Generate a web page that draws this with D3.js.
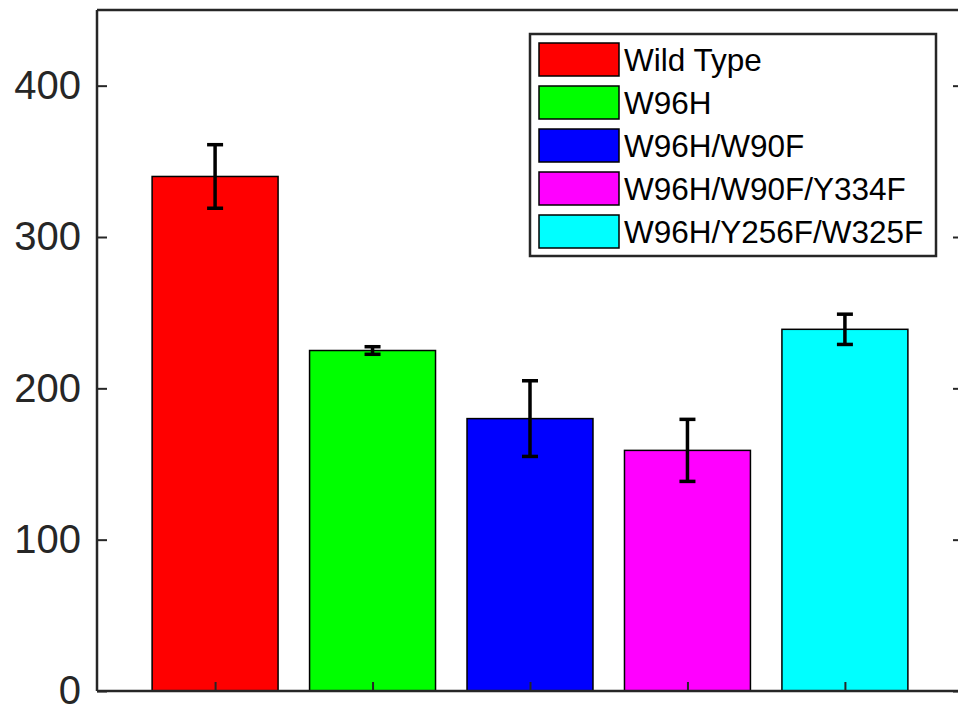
<!DOCTYPE html>
<html><head><meta charset="utf-8">
<script src="https://cdn.jsdelivr.net/npm/d3@7"></script>
<style>body{margin:0;background:#fff}svg{display:block}</style>
</head><body>
<script>
const categories = ["Wild Type","W96H","W96H/W90F","W96H/W90F/Y334F","W96H/Y256F/W325F"];
const values = [340, 225, 180, 159, 239];
const errors = [21, 2.5, 25, 20.5, 10];
const colors = ["#ff0000","#00ff00","#0000ff","#ff00ff","#00ffff"];
const yTicks = [0,100,200,300,400];

const W=958,H=715;
const svg=d3.select("body").append("svg").attr("width",W).attr("height",H);
const x=d3.scaleLinear().domain([0.25,5.75]).range([97,963]);
const y=d3.scaleLinear().domain([0,450]).range([691,10]);
const axisColor="#262626";
const bw=0.8;

// bars
svg.selectAll("rect.bar").data(values).enter().append("rect")
  .attr("x",(d,i)=>x(i+1-bw/2)).attr("width",(d,i)=>x(i+1+bw/2)-x(i+1-bw/2))
  .attr("y",d=>y(d)).attr("height",d=>y(0)-y(d))
  .attr("fill",(d,i)=>colors[i]).attr("stroke","#000").attr("stroke-width",1.5);

// error bars
const eb=svg.append("g").attr("stroke","#000").attr("stroke-width",3.5);
values.forEach((v,i)=>{
  const cx=x(i+1);
  eb.append("line").attr("x1",cx).attr("x2",cx).attr("y1",y(v+errors[i])).attr("y2",y(v-errors[i]));
  [v+errors[i],v-errors[i]].forEach(e=>{
    eb.append("line").attr("x1",cx-8).attr("x2",cx+8).attr("y1",y(e)).attr("y2",y(e));
  });
});

// axes box
const ax=svg.append("g").attr("stroke",axisColor).attr("stroke-width",2.5).attr("fill","none");
ax.append("path").attr("d",`M${x(0.25)},${y(0)}H${x(5.75)}M${x(0.25)},${y(450)}H${x(5.75)}M${x(0.25)},${y(0)}V${y(450)}M${x(5.75)},${y(0)}V${y(450)}`);

// left axis
const yAxis=d3.axisLeft(y).tickValues(yTicks).tickSize(-10).tickPadding(16);
const gy=svg.append("g").attr("transform",`translate(${x(0.25)},0)`).call(yAxis);
gy.select(".domain").remove();
gy.selectAll(".tick line").attr("stroke",axisColor).attr("stroke-width",2);
gy.selectAll(".tick text").attr("fill",axisColor).style("font-family","'Liberation Sans',Arial,sans-serif").style("font-size","40px");
// right ticks
const gr=svg.append("g").attr("transform",`translate(${x(5.75)},0)`).call(d3.axisRight(y).tickValues(yTicks).tickSize(-10).tickFormat(""));
gr.select(".domain").remove();
gr.selectAll(".tick line").attr("stroke",axisColor).attr("stroke-width",2);
// bottom ticks
const gx=svg.append("g").attr("transform",`translate(0,${y(0)})`).call(d3.axisBottom(x).tickValues([1,2,3,4,5]).tickSize(-9).tickFormat(""));
gx.select(".domain").remove();
gx.selectAll(".tick line").attr("stroke",axisColor).attr("stroke-width",2);

// legend
const lg=svg.append("g");
lg.append("rect").attr("x",530).attr("y",34).attr("width",406).attr("height",222)
  .attr("fill","#fff").attr("stroke",axisColor).attr("stroke-width",2.5);
categories.forEach((c,i)=>{
  const ty=43+i*43;
  lg.append("rect").attr("x",539).attr("y",ty).attr("width",80).attr("height",33)
    .attr("fill",colors[i]).attr("stroke","#000").attr("stroke-width",1.5);
  lg.append("text").attr("x",624).attr("y",ty+28).text(c)
    .attr("fill","#000").style("font-family","'Liberation Sans',Arial,sans-serif").style("font-size","31.5px");
});
</script>
</body></html>
